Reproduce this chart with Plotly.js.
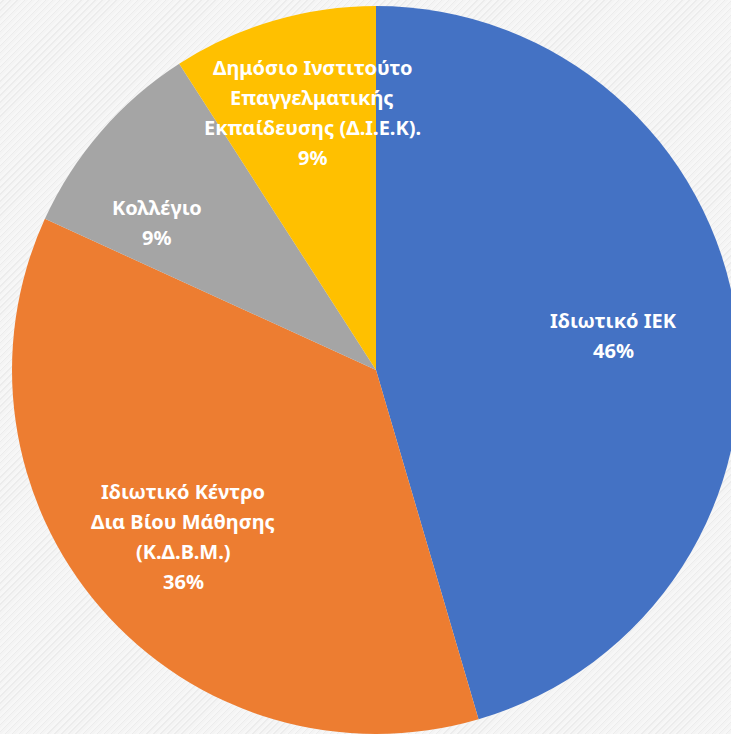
<!DOCTYPE html>
<html>
<head>
<meta charset="utf-8">
<script src="https://cdn.plot.ly/plotly-3.0.1.min.js"></script>
<style>
html,body{margin:0;padding:0;overflow:hidden;width:731px;height:734px;}
body{background-color:#f3f3f3;background-image:repeating-linear-gradient(135deg,#f7f7f7 0px,#f7f7f7 2px,#ececec 2px,#ececec 3px,#f4f4f4 3px,#f4f4f4 5px);}
#chart{width:760px;height:734px;}
</style>
</head>
<body>
<div id="chart"></div>
<script>
// Data
var categories = [
  ["Ιδιωτικό ΙΕΚ"],
  ["Ιδιωτικό Κέντρο", "Δια Βίου Μάθησης", "(Κ.Δ.Β.Μ.)"],
  ["Κολλέγιο"],
  ["Δημόσιο Ινστιτούτο", "Επαγγελματικής", "Εκπαίδευσης (Δ.Ι.Ε.Κ)."]
];
var values = [45.5, 36.4, 9.1, 9.1];
var percentLabels = ["46%", "36%", "9%", "9%"];
var colors = ["#4472C4", "#ED7D31", "#A5A5A5", "#FFC000"];

// Layout / style settings
var W = 760, H = 734;
var domX = [12 / W, 740 / W];
var domY = [0, 728 / H];
var labelRadius = [0.66, 0.70, 0.725, 0.73];
var labelAngleShift = [0, 0, -7, 2.5];
var lineGap = 30;
var fontSize = 20;

var trace = {
  type: "pie",
  labels: categories.map(function (c) { return c.join(" "); }),
  values: values,
  sort: false,
  direction: "clockwise",
  rotation: 0,
  textinfo: "none",
  hoverinfo: "none",
  marker: { colors: colors, line: { width: 0 } },
  domain: { x: domX, y: domY },
  showlegend: false
};

// pie geometry (as Plotly computes it)
var cx = W * (domX[0] + domX[1]) / 2;
var cy = H * (2 - domY[0] - domY[1]) / 2;
var R = Math.min(W * (domX[1] - domX[0]), H * (domY[1] - domY[0])) / 2;

var total = values.reduce(function (a, b) { return a + b; }, 0);
var annotations = [];
var cum = 0;
values.forEach(function (v, i) {
  var mid = (cum + v / 2) / total * 360 + labelAngleShift[i];
  cum += v;
  var a = mid * Math.PI / 180;
  var px = cx + R * labelRadius[i] * Math.sin(a);
  var py = cy - R * labelRadius[i] * Math.cos(a);
  var lines = categories[i].concat([percentLabels[i]]);
  var n = lines.length;
  lines.forEach(function (t, j) {
    annotations.push({
      x: px / W, y: 1 - py / H, xref: "paper", yref: "paper",
      xanchor: "center", yanchor: "middle",
      yshift: -(j - (n - 1) / 2) * lineGap,
      text: "<b>" + t + "</b>", showarrow: false,
      font: { family: "Noto Sans, Open Sans, sans-serif", size: fontSize, color: "#ffffff" }
    });
  });
});

var layout = {
  width: W, height: H,
  margin: { l: 0, r: 0, t: 0, b: 0 },
  paper_bgcolor: "rgba(0,0,0,0)",
  plot_bgcolor: "rgba(0,0,0,0)",
  annotations: annotations
};

Plotly.newPlot("chart", [trace], layout, { displayModeBar: false, staticPlot: true });
</script>
</body>
</html>
